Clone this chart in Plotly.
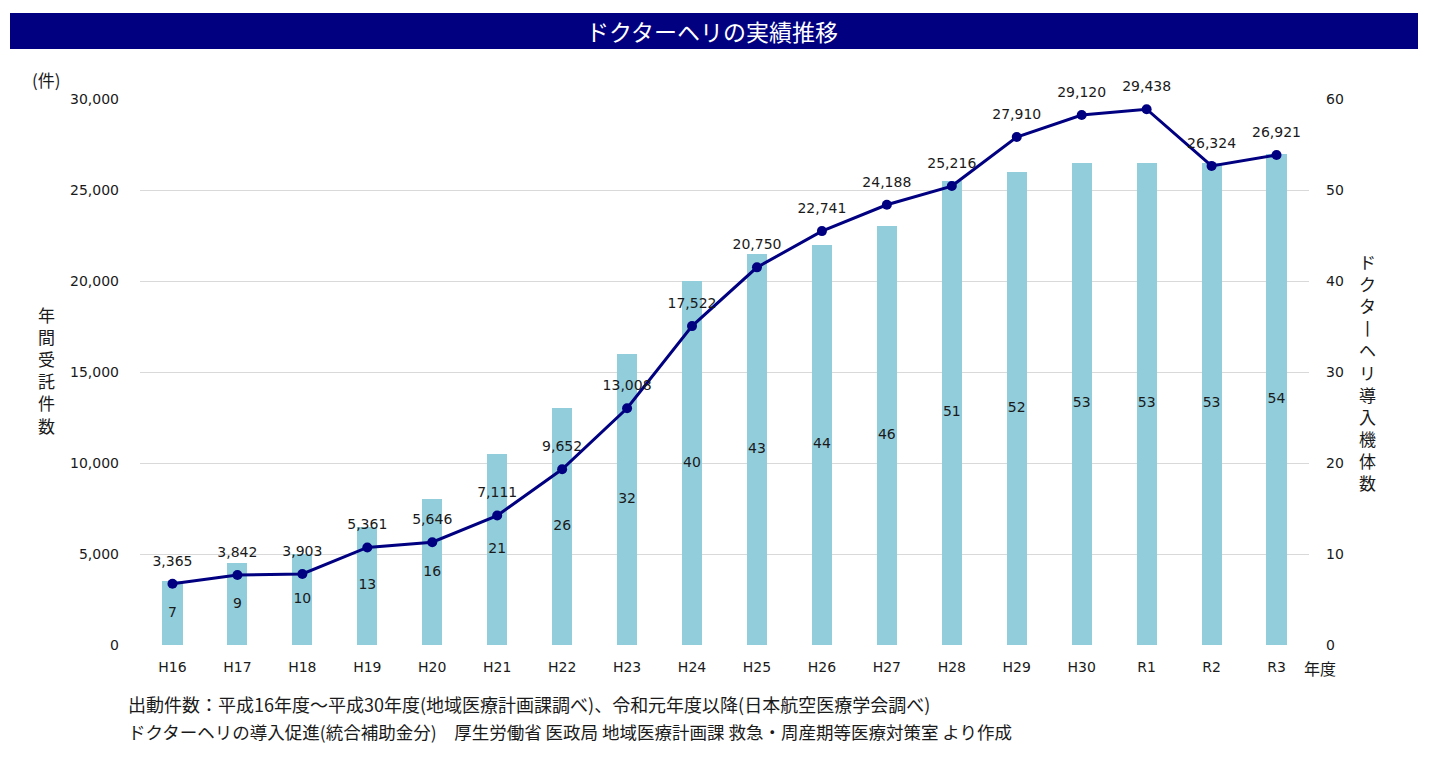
import plotly.graph_objects as go

categories = ["H16", "H17", "H18", "H19", "H20", "H21", "H22", "H23", "H24",
              "H25", "H26", "H27", "H28", "H29", "H30", "R1", "R2", "R3"]
flights = [3365, 3842, 3903, 5361, 5646, 7111, 9652, 13008, 17522,
           20750, 22741, 24188, 25216, 27910, 29120, 29438, 26324, 26921]
helicopters = [7, 9, 10, 13, 16, 21, 26, 32, 40, 43, 44, 46, 51, 52, 53, 53, 53, 54]

left_ticks = [0, 5000, 10000, 15000, 20000, 25000, 30000]
right_ticks = [0, 10, 20, 30, 40, 50, 60]

title_text = "ドクターヘリの実績推移"
left_title = "年間受託件数"
right_title = "ドクターヘリ導入機体数"
unit_text = "(件)"
x_unit = "年度"
note1 = "出動件数：平成16年度～平成30年度(地域医療計画課調べ)、令和元年度以降(日本航空医療学会調べ)"
note2 = "ドクターヘリの導入促進(統合補助金分)　厚生労働省 医政局 地域医療計画課 救急・周産期等医療対策室 より作成"

NUM_FONT = "DejaVu Sans, Noto Sans CJK JP"
JP_FONT = "Noto Sans CJK JP"
TXT = "#1a1a1a"
NAVY = "#000080"

fig = go.Figure()

# bars on primary axis (right side, 0-60) so the line overlays them
fig.add_trace(go.Bar(
    x=categories, y=helicopters, yaxis="y",
    marker=dict(color="#92CDDC", line=dict(width=0)),
    width=0.31, hoverinfo="x+y", showlegend=False,
))
fig.add_trace(go.Scatter(
    x=categories, y=[v / 2 for v in helicopters], yaxis="y",
    mode="text", text=[str(v) for v in helicopters],
    textfont=dict(family=NUM_FONT, size=14, color=TXT),
    hoverinfo="skip", showlegend=False, cliponaxis=False,
))
fig.add_trace(go.Scatter(
    x=categories, y=flights, yaxis="y2",
    mode="lines+markers",
    line=dict(color=NAVY, width=3),
    marker=dict(color=NAVY, size=10),
    showlegend=False, cliponaxis=False,
))
# data labels for the line (transparent larger markers push text upward)
fig.add_trace(go.Scatter(
    x=categories, y=flights, yaxis="y2",
    mode="markers+text",
    marker=dict(color="rgba(0,0,0,0)", size=22),
    text=[f"{v:,}" for v in flights], textposition="top center",
    textfont=dict(family=NUM_FONT, size=14, color=TXT),
    hoverinfo="skip", showlegend=False, cliponaxis=False,
))

OFF = 8  # page body margin
W, H = 1429 - OFF, 761 - OFF
L, R, T, B = 140 - OFF, 120, 99 - OFF, 116
pw, ph = W - L - R, H - T - B

def px(x):
    return (x - OFF - L) / pw

def py(y):
    return (H - B - (y - OFF)) / ph

fig.update_layout(
    width=W, height=H,
    margin=dict(l=L, r=R, t=T, b=B, autoexpand=False),
    paper_bgcolor="white", plot_bgcolor="white",
    font=dict(family=NUM_FONT, size=14, color=TXT),
    xaxis=dict(
        type="category", range=[-0.5, 17.5], showgrid=False, showline=False,
        ticks="", ticklabelstandoff=12,
        tickfont=dict(family=NUM_FONT, size=14, color=TXT),
    ),
    yaxis=dict(
        range=[0, 60], tickvals=right_ticks, side="right",
        showgrid=True, gridcolor="#D9D9D9", gridwidth=1, zeroline=False,
        showline=False, ticks="", ticklabelstandoff=16,
        tickfont=dict(family=NUM_FONT, size=14, color=TXT),
    ),
    yaxis2=dict(
        range=[0, 30000], tickvals=left_ticks, ticktext=[f"{v:,}" for v in left_ticks],
        overlaying="y", side="left",
        showgrid=False, zeroline=False, showline=False, ticks="",
        ticklabelstandoff=20,
        tickfont=dict(family=NUM_FONT, size=14, color=TXT),
    ),
    bargap=0,
)

fig.add_shape(type="rect", xref="paper", yref="paper",
              x0=px(10), x1=px(1418), y0=py(49), y1=py(13),
              fillcolor=NAVY, line=dict(width=0), layer="below")

annos = [
    dict(x=px(712), y=py(31), text=title_text, font=dict(family=JP_FONT, size=23, color="white"),
         xanchor="center", yanchor="middle"),
    dict(x=px(46), y=py(80), text=unit_text, font=dict(family=JP_FONT, size=17, color=TXT),
         xanchor="center", yanchor="middle"),
    dict(x=px(46), y=py(370), text="<br>".join(list(left_title)),
         font=dict(family=JP_FONT, size=17, color=TXT), xanchor="center", yanchor="middle"),
    dict(x=px(1367), y=py(372), text="<br>".join(list(right_title.replace("ー", "丨"))),
         font=dict(family=JP_FONT, size=17, color=TXT), xanchor="center", yanchor="middle"),
    dict(x=px(1320), y=py(668), text=x_unit, font=dict(family=JP_FONT, size=16, color=TXT),
         xanchor="center", yanchor="middle"),
    dict(x=px(126), y=py(704), text=note1, font=dict(family=JP_FONT, size=18, color=TXT),
         xanchor="left", yanchor="middle"),
    dict(x=px(126), y=py(732), text=note2, font=dict(family=JP_FONT, size=17.5, color=TXT),
         xanchor="left", yanchor="middle"),
]
for a in annos:
    fig.add_annotation(xref="paper", yref="paper", showarrow=False, **a)

fig.write_html("out.html")
